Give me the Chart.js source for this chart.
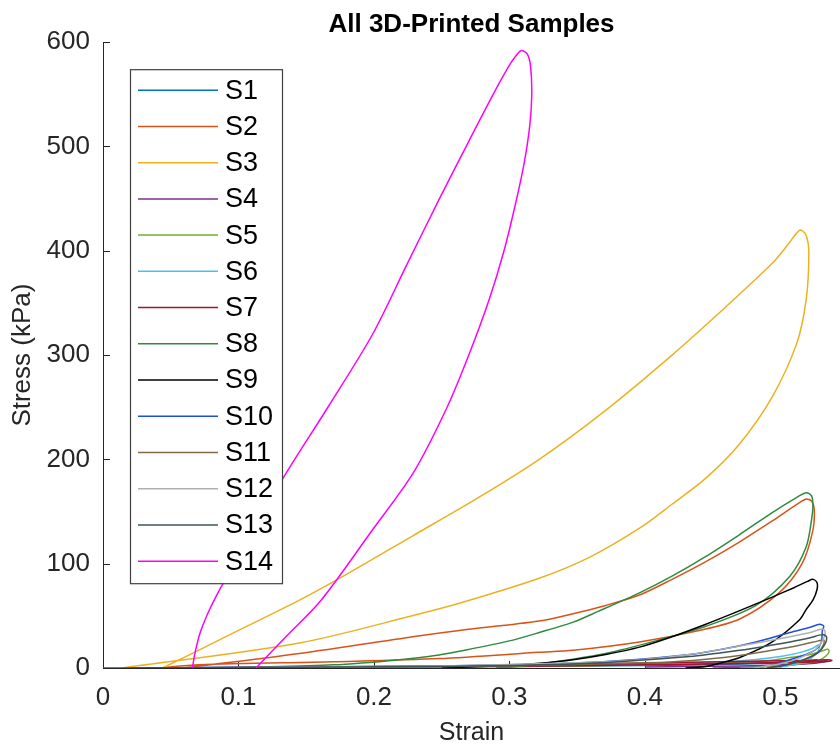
<!DOCTYPE html>
<html>
<head>
<meta charset="utf-8">
<title>All 3D-Printed Samples</title>
<script src="https://cdn.jsdelivr.net/npm/chart.js@4.4.1/dist/chart.umd.min.js"></script>
<style>
  html, body { margin: 0; padding: 0; background: #fff; overflow: hidden; }
  #wrap { width: 840px; height: 748px; }
</style>
</head>
<body>
<div id="wrap"><canvas id="chart" width="840" height="748"></canvas></div>
<script>
// stress-strain loops (strain, kPa)
const sampleNames = ["S1", "S2", "S3", "S4", "S5", "S6", "S7", "S8", "S9", "S10", "S11", "S12", "S13", "S14"];
const sampleColors = ["#0072BD", "#D95319", "#EDB120", "#7E2F8E", "#77AC30", "#4DBEEE", "#A2142F",
  "#2e8b3e", "#000000", "#1f4fd8", "#7f6a45", "#b0b0b0", "#3d5555", "#ff00ff"];

const xTicks = [0, 0.1, 0.2, 0.3, 0.4, 0.5];
const yTicks = [0, 100, 200, 300, 400, 500, 600];

const s1Strain = [0.02, 0.15, 0.30, 0.40, 0.46, 0.50, 0.52, 0.527, 0.525, 0.51, 0.48, 0.45];
const s1Stress = [0, 0.8, 1.5, 2.5, 3.5, 5, 7, 8, 6, 3, 1, 0];

const s2Strain = [0.059, 0.145, 0.234, 0.263, 0.322, 0.347, 0.371, 0.396, 0.420, 0.445, 0.470, 0.494, 0.510, 0.519,
  0.523, 0.525, 0.524, 0.516, 0.499, 0.470, 0.440, 0.396, 0.347, 0.322, 0.248, 0.170, 0.071, 0.04];
const s2Stress = [0, 14, 31, 36, 45, 52, 60, 70, 85, 102, 121, 141, 155, 162,
  160, 152, 132, 100, 72, 47, 36, 25, 17, 15, 9, 6, 3, 0];

const s3Strain = [0.044, 0.069, 0.10, 0.145, 0.180, 0.229, 0.278, 0.322, 0.371, 0.420, 0.457, 0.494, 0.505, 0.512, 0.515,
  0.519, 0.521, 0.519, 0.512, 0.494, 0.470, 0.445, 0.420, 0.396, 0.359, 0.322, 0.263, 0.231, 0.145, 0.0144];
const s3Stress = [0, 16, 36, 65, 90, 127, 164, 200, 247, 300, 343, 388, 405, 417, 420,
  415, 398, 353, 311, 260, 215, 182, 157, 134, 106, 86, 62, 51, 24, 0];

const s4Strain = [0, 0.012, 0.1, 0.25, 0.40, 0.48, 0.52, 0.534, 0.533, 0.52, 0.47, 0.40];
const s4Stress = [0, 0, 0.5, 1.5, 3, 4.5, 6, 7, 6, 4, 2, 1];

const s5Strain = [0.10, 0.25, 0.35, 0.45, 0.49, 0.507, 0.522, 0.530, 0.535, 0.536, 0.534, 0.528, 0.515, 0.50, 0.47];
const s5Stress = [0.3, 1, 2, 4.5, 7, 10, 13, 16, 18, 16, 12, 7, 4, 2, 0];

const s6Strain = [0.05, 0.2, 0.30, 0.40, 0.45, 0.48, 0.50, 0.515, 0.524, 0.528, 0.529, 0.526, 0.518, 0.505, 0.495];
const s6Stress = [0.3, 1, 2, 3.5, 5.5, 8, 11, 15, 19, 22, 20, 13, 6, 2, 0];

const s7Strain = [0.05, 0.15, 0.25, 0.35, 0.433, 0.48, 0.52, 0.536, 0.538, 0.535, 0.50, 0.45, 0.40, 0.30];
const s7Stress = [0, 1, 2, 3.5, 5.5, 6.5, 7.3, 7.8, 7.2, 6.3, 5.2, 4, 3, 1.5];

const s8Strain = [0.10, 0.170, 0.219, 0.248, 0.263, 0.300, 0.322, 0.347, 0.365, 0.396, 0.420, 0.445, 0.470, 0.494,
  0.510, 0.519, 0.523, 0.524, 0.523, 0.519, 0.507, 0.482, 0.445, 0.408, 0.371, 0.334, 0.31, 0.29];
const s8Stress = [0.5, 3, 8, 12.5, 16, 26, 34, 44, 54, 72, 88, 107, 128, 149,
  162, 168, 165, 155, 142, 116, 88, 60, 40, 26, 14, 6, 2, 0];

const s9Strain = [0.25, 0.30, 0.322, 0.347, 0.371, 0.396, 0.420, 0.445, 0.470, 0.494, 0.510, 0.520, 0.524,
  0.527, 0.527, 0.524, 0.519, 0.514, 0.494, 0.470, 0.455, 0.445, 0.43];
const s9Stress = [0, 2.5, 4.5, 8, 13, 20, 30, 42, 55, 68, 77, 83, 85,
  82, 75, 65, 56, 46, 25, 10, 4.5, 1.5, 0];

const s10Strain = [0.03, 0.15, 0.25, 0.33, 0.38, 0.433, 0.457, 0.482, 0.507, 0.522, 0.529,
  0.532, 0.531, 0.530, 0.524, 0.507, 0.494, 0.482];
const s10Stress = [0, 1, 2, 4, 7, 13, 18, 25, 34, 39, 42, 40, 36, 24, 16, 8, 3, 0];

const s11Strain = [0.15, 0.30, 0.40, 0.433, 0.470, 0.494, 0.515, 0.528, 0.532, 0.532, 0.528, 0.518, 0.505, 0.49];
const s11Stress = [0.5, 2, 5, 7, 12, 17, 22, 26, 27, 23, 15, 8, 3, 0];

const s12Strain = [0.10, 0.25, 0.35, 0.396, 0.433, 0.470, 0.507, 0.522, 0.529, 0.532, 0.533, 0.531, 0.526, 0.515, 0.50, 0.48];
const s12Stress = [0.5, 2, 5, 8, 13, 21, 30, 34, 37, 37, 33, 26, 18, 10, 4, 0];

const s13Strain = [0.10, 0.25, 0.35, 0.433, 0.470, 0.494, 0.507, 0.522, 0.531, 0.534, 0.533, 0.528, 0.515, 0.50, 0.49];
const s13Stress = [0.5, 1.5, 4, 11, 17, 22, 25, 29, 32, 30, 23, 15, 7, 2, 0];

const s14Strain = [0.066, 0.068, 0.072, 0.079, 0.086, 0.090, 0.132, 0.166, 0.199, 0.224, 0.248, 0.270, 0.288,
  0.300, 0.306, 0.309, 0.313, 0.3155, 0.3165, 0.315, 0.311, 0.305, 0.296, 0.285, 0.270, 0.254, 0.229,
  0.197, 0.161, 0.135, 0.113];
const s14Stress = [0, 15, 35, 57, 75, 84, 180, 250, 320, 386, 449, 505, 550,
  578, 589, 592, 589, 578, 550, 520, 485, 448, 400, 353, 300, 250, 187,
  129, 65, 30, 0];

const strainSets = [s1Strain, s2Strain, s3Strain, s4Strain, s5Strain, s6Strain, s7Strain,
  s8Strain, s9Strain, s10Strain, s11Strain, s12Strain, s13Strain, s14Strain];
const stressSets = [s1Stress, s2Stress, s3Stress, s4Stress, s5Stress, s6Stress, s7Stress,
  s8Stress, s9Stress, s10Stress, s11Stress, s12Stress, s13Stress, s14Stress];

const FONT = "'Liberation Sans', Arial, Helvetica, sans-serif";
const INK = "#262626";

// MATLAB-style ticks pointing into the axes
const insideTicks = {
  id: "insideTicks",
  beforeDatasetsDraw(chart) {
    const { ctx, chartArea, scales } = chart;
    ctx.save();
    ctx.strokeStyle = INK;
    ctx.lineWidth = 1;
    ctx.beginPath();
    xTicks.forEach(v => {
      const px = Math.round(scales.x.getPixelForValue(v)) + 0.5;
      ctx.moveTo(px, chartArea.bottom);
      ctx.lineTo(px, chartArea.bottom - 7);
    });
    yTicks.forEach(v => {
      const py = Math.round(scales.y.getPixelForValue(v)) + 0.5;
      ctx.moveTo(chartArea.left, py);
      ctx.lineTo(chartArea.left + 7, py);
    });
    ctx.stroke();
    ctx.restore();
  }
};

// legend box sitting inside the axes, on top of the lines
const boxLegend = {
  id: "boxLegend",
  afterDatasetsDraw(chart) {
    const { ctx, chartArea } = chart;
    const left = chartArea.left + 27;
    const top = chartArea.top + 27;
    const w = 152, h = 514, row = 36.23;
    ctx.save();
    ctx.fillStyle = "#fff";
    ctx.fillRect(left, top, w, h);
    ctx.strokeStyle = "#404040";
    ctx.lineWidth = 1.2;
    ctx.strokeRect(left + 0.5, top + 0.5, w, h);
    ctx.font = "27px " + FONT;
    ctx.textBaseline = "middle";
    ctx.textAlign = "left";
    sampleNames.forEach((name, i) => {
      const yy = top + 21 + i * row;
      ctx.strokeStyle = sampleColors[i];
      ctx.lineWidth = 1.5;
      ctx.beginPath();
      ctx.moveTo(left + 8, yy);
      ctx.lineTo(left + 88, yy);
      ctx.stroke();
      ctx.fillStyle = "#000";
      ctx.fillText(name, left + 95, yy + 1);
    });
    ctx.restore();
  }
};

const datasets = sampleNames.map((name, i) => ({
  label: name,
  data: strainSets[i].map((x, k) => ({ x, y: stressSets[i][k] })),
  borderColor: sampleColors[i],
  backgroundColor: sampleColors[i],
  borderWidth: 1.5,
  pointRadius: 0,
  showLine: true,
  tension: 0.3,
  fill: false,
  order: sampleNames.length - 1 - i
}));

new Chart(document.getElementById("chart"), {
  type: "scatter",
  data: { datasets },
  plugins: [insideTicks, boxLegend],
  options: {
    responsive: false,
    animation: false,
    devicePixelRatio: 1,
    layout: { padding: 0 },
    plugins: {
      legend: { display: false },
      tooltip: { enabled: false },
      title: {
        display: true,
        text: "All 3D-Printed Samples",
        fullSize: false,
        color: "#000",
        font: { family: FONT, size: 26, weight: "bold" },
        padding: { top: 9, bottom: 2 }
      }
    },
    scales: {
      x: {
        type: "linear",
        min: 0,
        max: 0.544,
        afterBuildTicks: s => { s.ticks = xTicks.map(v => ({ value: v })); },
        afterFit: s => { s.height = 80; },
        grid: { display: true, drawOnChartArea: false, drawTicks: false },
        border: { display: true, color: INK, width: 1 },
        ticks: {
          autoSkip: false, maxRotation: 0, padding: 14, color: INK,
          font: { family: FONT, size: 26 },
          callback: v => String(v)
        },
        title: {
          display: true, text: "Strain", color: INK,
          font: { family: FONT, size: 25 }, padding: { top: 0, bottom: 0 }
        }
      },
      y: {
        type: "linear",
        min: 0,
        max: 600,
        afterBuildTicks: s => { s.ticks = yTicks.map(v => ({ value: v })); },
        afterFit: s => { s.width = 103; },
        grid: { display: true, drawOnChartArea: false, drawTicks: false },
        border: { display: true, color: INK, width: 1 },
        ticks: {
          autoSkip: false, padding: 13, color: INK,
          font: { family: FONT, size: 26 },
          callback: v => String(v)
        },
        title: {
          display: true, text: "Stress (kPa)", color: INK,
          font: { family: FONT, size: 26 }, padding: { top: 7, bottom: 0 }
        }
      }
    }
  }
});
</script>
</body>
</html>
